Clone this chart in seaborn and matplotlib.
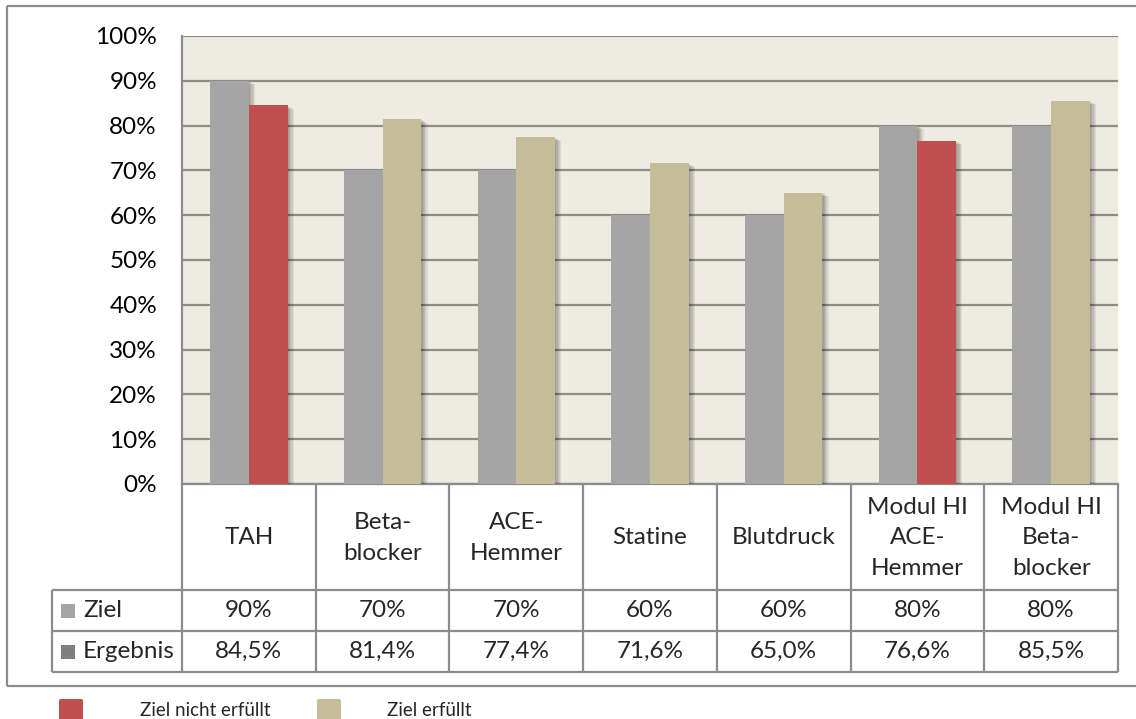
import matplotlib
matplotlib.use("Agg")
import matplotlib.pyplot as plt
import matplotlib.patheffects as pe
from matplotlib.lines import Line2D
from matplotlib.patches import Rectangle, FancyBboxPatch
import seaborn as sns
import pandas as pd
import numpy as np

# ---- data ----
categories = ["TAH", "Beta-\nblocker", "ACE-\nHemmer", "Statine", "Blutdruck",
              "Modul HI\nACE-\nHemmer", "Modul HI\nBeta-\nblocker"]
ziel = [90, 70, 70, 60, 60, 80, 80]
ergebnis = [84.5, 81.4, 77.4, 71.6, 65.0, 76.6, 85.5]
ziel_labels = ["90%", "70%", "70%", "60%", "60%", "80%", "80%"]
ergebnis_labels = ["84,5%", "81,4%", "77,4%", "71,6%", "65,0%", "76,6%", "85,5%"]
yticks = [0, 10, 20, 30, 40, 50, 60, 70, 80, 90, 100]
series_names = ["Ziel", "Ergebnis"]
legend_labels = ["Ziel nicht erfüllt", "Ziel erfüllt"]

# ---- style ----
GRAY = "#A5A5A5"
DARKGRAY = "#7F7F7F"
RED = "#C0504D"
TAN = "#C4BD97"
BG = "#EEEBE0"
LINE = "#8C8C8C"
FONT = ["Lato", "DejaVu Sans"]

sns.set_theme(style="white")
plt.rcParams["font.family"] = FONT

W, H = 1136, 719
fig = plt.figure(figsize=(W / 100, H / 100), dpi=100)

L, R, T, B = 182, 1118, 36, 484
ax = fig.add_axes([L / W, 1 - B / H, (R - L) / W, (B - T) / H])
ax.set_facecolor(BG)

df = pd.DataFrame({
    "Kategorie": categories * 2,
    "Serie": [series_names[0]] * len(categories) + [series_names[1]] * len(categories),
    "Wert": ziel + ergebnis,
})
sns.barplot(data=df, x="Kategorie", y="Wert", hue="Serie", order=categories,
            hue_order=series_names, palette=[GRAY, TAN], width=0.58,
            saturation=1, legend=False, ax=ax, zorder=3)

# colour Ergebnis bars according to target met
n = len(categories)
patches = [p for p in ax.patches if isinstance(p, Rectangle)]
shadow = [pe.SimplePatchShadow(offset=(0.9 * k, -0.5 * k), shadow_rgbFace="black", alpha=0.07)
          for k in range(5, 0, -1)] + [pe.Normal()]
for i, p in enumerate(patches[:2 * n]):
    p.set_edgecolor("none")
    p.set_linewidth(0)
    if i >= n:
        k = i - n
        p.set_facecolor(RED if ergebnis[k] < ziel[k] else TAN)
    p.set_path_effects(shadow)

fs = 17.5
ax.set_ylim(0, 100)
ax.set_xlim(-0.5, n - 0.5)
ax.set_yticks(yticks)
ax.set_yticklabels([f"{v}%" for v in yticks], fontsize=fs, color="black")
ax.tick_params(axis="y", length=0, pad=18)
ax.set_xticks([])
ax.set_xlabel("")
ax.set_ylabel("")
ax.yaxis.grid(True, color=LINE, linewidth=1.6, zorder=1)
ax.set_axisbelow(True)
for s in ["top", "right"]:
    ax.spines[s].set_visible(False)
ax.spines["left"].set_color(LINE)
ax.spines["left"].set_linewidth(1.6)
ax.spines["bottom"].set_color(LINE)
ax.spines["bottom"].set_linewidth(1.6)

# ---- overlay in pixel coordinates for table, frame, legend ----
ov = fig.add_axes([0, 0, 1, 1], zorder=5)
ov.set_xlim(0, W)
ov.set_ylim(H, 0)
ov.axis("off")
ov.patch.set_alpha(0)

def line(x0, y0, x1, y1, lw=1.6, c=LINE):
    ov.add_line(Line2D([x0, x1], [y0, y1], color=c, linewidth=lw, solid_capstyle="butt"))

# outer frame
line(7, 6, W + 5, 6)
line(7, 6, 7, 686)
line(7, 686, W + 5, 686)

colw = (R - L) / n
row_top, row1, row2, row3 = B, 590, 631, 672
TL = 52
for i in range(n + 1):
    x = L + i * colw
    line(x, row_top, x, row3)
line(TL, row1, TL, row3)
line(TL, row1, R, row1)
line(TL, row2, R, row2)
line(TL, row3, R, row3)

for i, c in enumerate(categories):
    xc = L + (i + 0.5) * colw
    ov.text(xc, (row_top + row1) / 2 + 1, c, ha="center", va="center", fontsize=fs,
            linespacing=1.55)
    ov.text(xc, (row1 + row2) / 2, ziel_labels[i], ha="center", va="center", fontsize=fs)
    ov.text(xc, (row2 + row3) / 2, ergebnis_labels[i], ha="center", va="center", fontsize=fs)

# row headers with keys
for (y0, y1), name, col in [((row1, row2), series_names[0], GRAY),
                            ((row2, row3), series_names[1], DARKGRAY)]:
    ym = (y0 + y1) / 2
    ov.add_patch(Rectangle((61, ym - 7), 14, 14, facecolor=col, edgecolor="none"))
    ov.text(83, ym, name, ha="left", va="center", fontsize=fs)

# bottom legend
for x0, tx, col, lab in [(59, 140, RED, legend_labels[0]), (317, 387, TAN, legend_labels[1])]:
    ov.add_patch(FancyBboxPatch((x0, 699), 24, 22, boxstyle="round,pad=0,rounding_size=2",
                                facecolor=col, edgecolor="none"))
    ov.text(tx, 710, lab, ha="left", va="center", fontsize=13.5)

fig.savefig("out.png", dpi=100)
